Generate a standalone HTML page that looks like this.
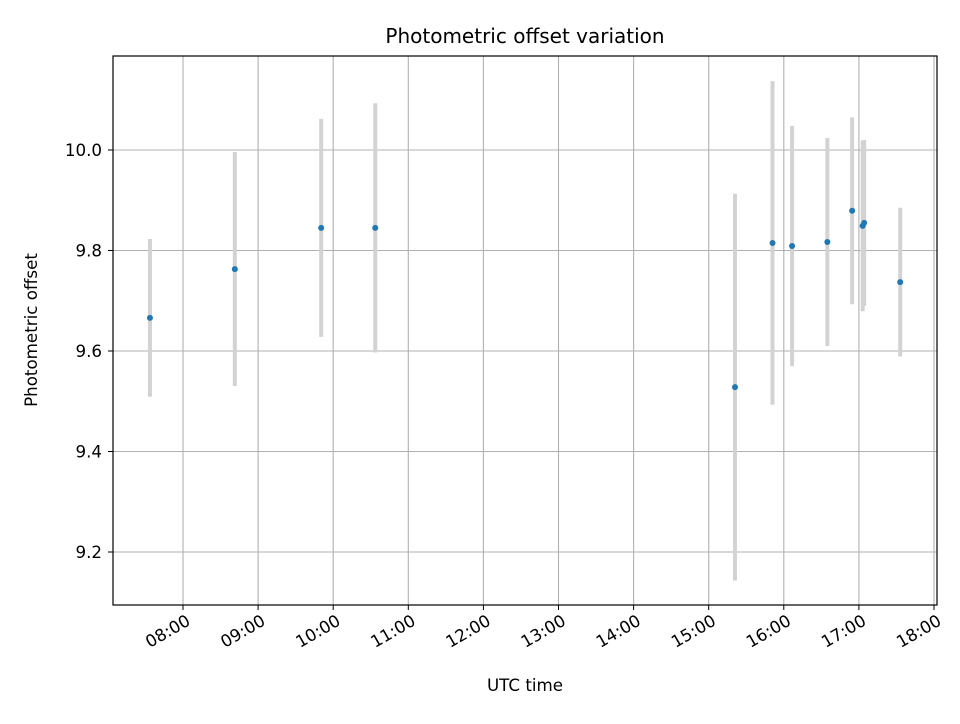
<!DOCTYPE html>
<html><head><meta charset="utf-8"><style>
body{margin:0;background:#fff;font-family:"DejaVu Sans","Liberation Sans",sans-serif}
svg text{font-family:"DejaVu Sans","Liberation Sans",sans-serif}
</style></head><body>
<svg id="chart" width="960" height="720" xmlns="http://www.w3.org/2000/svg">
<text x="525" y="43" text-anchor="middle" font-size="20">Photometric offset variation</text>
<text x="525" y="691" text-anchor="middle" font-size="16.7">UTC time</text>
<text transform="translate(37,330) rotate(-90)" text-anchor="middle" font-size="16.7">Photometric offset</text>
<g id="grid"></g><g id="errs"></g><g id="pts"></g><g id="ticks"></g>
<rect x="113" y="56" width="824" height="549" fill="none" stroke="#000" stroke-width="1.2"/>
</svg>
<script>
const times=[7.56,8.69,9.84,10.56,15.35,15.85,16.11,16.58,16.91,17.05,17.07,17.55];
const offsets=[9.666,9.763,9.845,9.845,9.528,9.815,9.809,9.817,9.879,9.849,9.855,9.737];
const errors=[0.157,0.233,0.217,0.248,0.385,0.322,0.239,0.207,0.186,0.17,0.165,0.148];
const xTicks=[8,9,10,11,12,13,14,15,16,17,18];
const xTickLabels=["08:00","09:00","10:00","11:00","12:00","13:00","14:00","15:00","16:00","17:00","18:00"];
const yTicks=[9.2,9.4,9.6,9.8,10.0];
const yTickLabels=["9.2","9.4","9.6","9.8","10.0"];
const X=t=>183+(t-8)*75.1;
const Y=v=>150+(10-v)*502.5;
const NS="http://www.w3.org/2000/svg";
function mk(tag,attrs,parent){const e=document.createElementNS(NS,tag);for(const k in attrs)e.setAttribute(k,attrs[k]);document.getElementById(parent).appendChild(e);return e;}
xTicks.forEach((t,i)=>{
 const g=mk('line',{x1:X(t),x2:X(t),y1:56,y2:605,stroke:'#b0b0b0','stroke-width':1.1},'grid');
 
 
 const tk=mk('line',{x1:X(t),x2:X(t),y1:605,y2:610,stroke:'#000'},'ticks');
 
 
 const tx=mk('text',{'font-size':16.7,'text-anchor':'end','dominant-baseline':'hanging',transform:`translate(${X(t)+2},${613}) rotate(-30)`},'ticks');
 tx.textContent=xTickLabels[i];
 
 
});
yTicks.forEach((v,i)=>{
 const g=mk('line',{x1:113,x2:937,y1:Y(v),y2:Y(v),stroke:'#b0b0b0','stroke-width':1.1},'grid');
 
 
 const tk=mk('line',{x1:108,x2:113,y1:Y(v),y2:Y(v),stroke:'#000'},'ticks');
 
 
 const tx=mk('text',{'font-size':16.7,'text-anchor':'end',x:102,y:Y(v)+6},'ticks');
 tx.textContent=yTickLabels[i];
 
 
});
times.forEach((t,i)=>{
 const e=mk('line',{x1:X(t),x2:X(t),y1:Y(offsets[i]+errors[i]),y2:Y(offsets[i]-errors[i]),stroke:'#d3d3d3','stroke-width':4},'errs');
 
 
 const p=mk('circle',{cx:X(t),cy:Y(offsets[i]),r:3,fill:'#1f77b4'},'pts');
 
 
});
</script>
</body></html>
